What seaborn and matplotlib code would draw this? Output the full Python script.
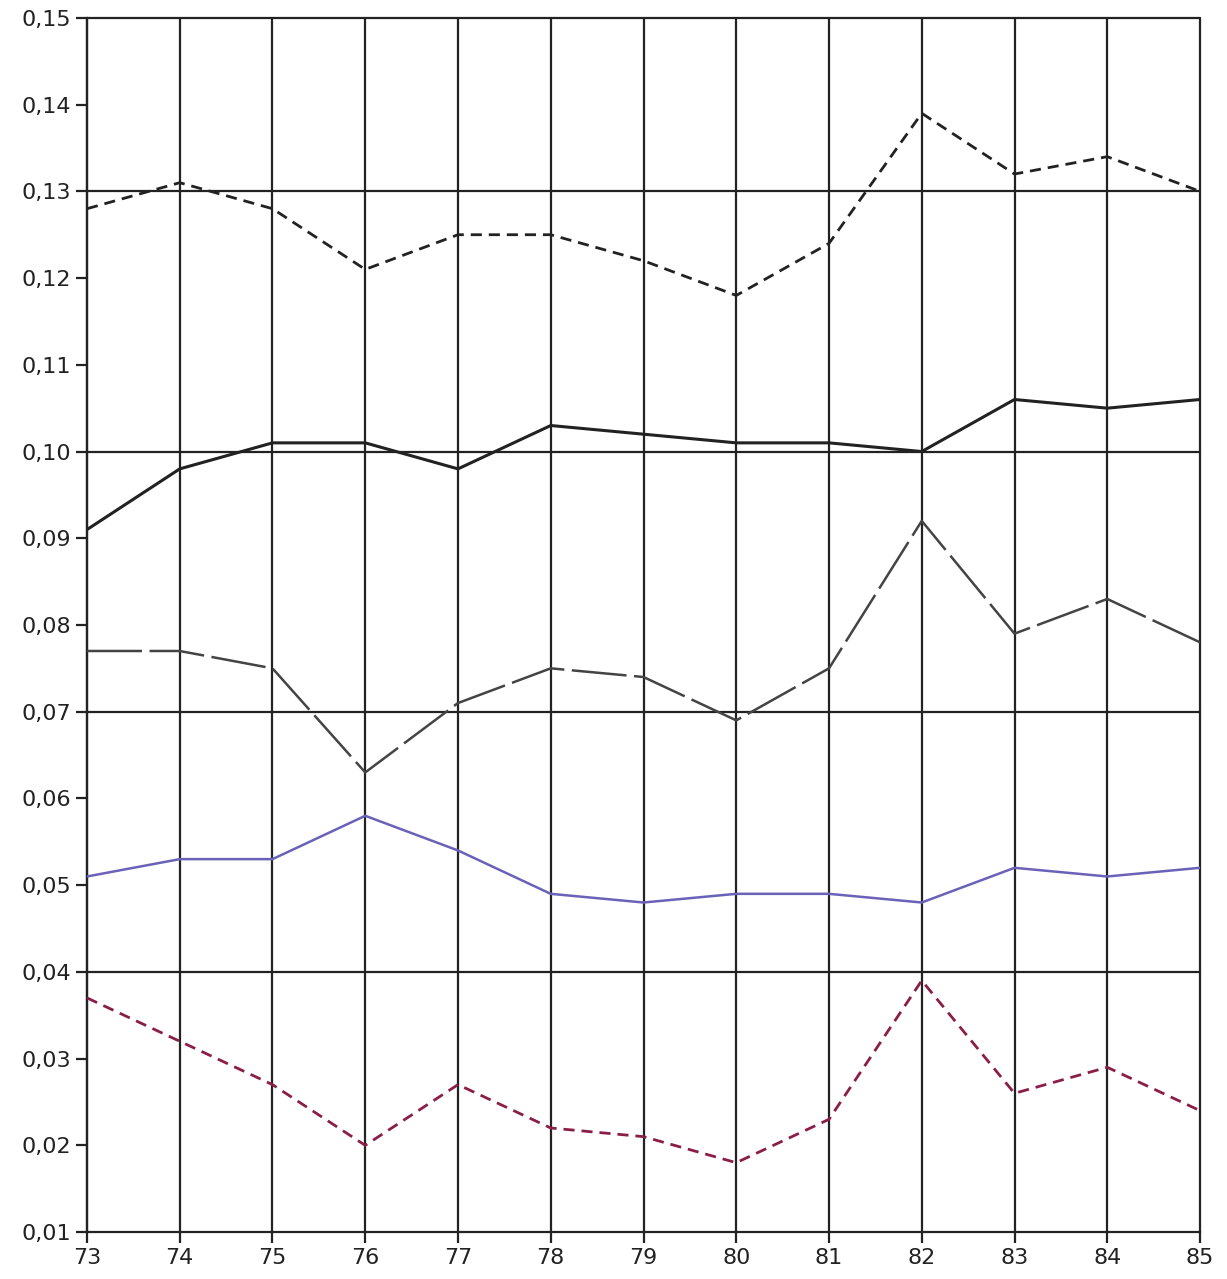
import matplotlib
matplotlib.use("Agg")
import matplotlib.pyplot as plt
import seaborn as sns
import pandas as pd
from matplotlib.ticker import FuncFormatter

years = [73, 74, 75, 76, 77, 78, 79, 80, 81, 82, 83, 84, 85]

serie_atas = [0.128, 0.131, 0.128, 0.121, 0.125, 0.125, 0.122, 0.118, 0.124, 0.139, 0.132, 0.134, 0.130]
serie_hitam = [0.091, 0.098, 0.101, 0.101, 0.098, 0.103, 0.102, 0.101, 0.101, 0.100, 0.106, 0.105, 0.106]
serie_abu = [0.077, 0.077, 0.075, 0.063, 0.071, 0.075, 0.074, 0.069, 0.075, 0.092, 0.079, 0.083, 0.078]
serie_biru = [0.051, 0.053, 0.053, 0.058, 0.054, 0.049, 0.048, 0.049, 0.049, 0.048, 0.052, 0.051, 0.052]
serie_merah = [0.037, 0.032, 0.027, 0.020, 0.027, 0.022, 0.021, 0.018, 0.023, 0.039, 0.026, 0.029, 0.024]

y_ticks = [0.01, 0.02, 0.03, 0.04, 0.05, 0.06, 0.07, 0.08, 0.09, 0.10, 0.11, 0.12, 0.13, 0.14, 0.15]
y_grid = [0.04, 0.07, 0.10, 0.13, 0.15]

sns.set_theme(style="white")
plt.rcParams['font.family'] = ['DejaVu Sans']

fig = plt.figure(figsize=(12.27, 12.79), dpi=100)
ax = fig.add_axes([0.0709, 0.0367, 0.9071, 0.9493])

# garis grid
for x in years:
    ax.axvline(x, color='#222222', lw=1.6, zorder=1, clip_on=False)
for y in y_grid:
    ax.axhline(y, color='#222222', lw=1.6, zorder=1, clip_on=False)

gaya = [
    (serie_atas, '#222222', (0, (4, 2.5)), 2.0),
    (serie_hitam, '#222222', '-', 2.2),
    (serie_abu, '#444444', (0, (22, 3)), 1.8),
    (serie_biru, '#6a62b8', '-', 1.8),
    (serie_merah, '#8b1e48', (0, (4, 2.5)), 2.0),
]
for vals, warna, ls, lw in gaya:
    df = pd.DataFrame({'tahun': years, 'nilai': vals})
    sns.lineplot(data=df, x='tahun', y='nilai', ax=ax, color=warna,
                 linestyle=ls, lw=lw, zorder=3)

ax.set_xlim(73, 85)
ax.set_ylim(0.01, 0.15)
ax.set_xticks(years)
ax.set_xticklabels([str(t) for t in years])
ax.set_yticks(y_ticks)
ax.yaxis.set_major_formatter(FuncFormatter(lambda v, p: f"{v:.2f}".replace('.', ',')))
ax.set_xlabel('')
ax.set_ylabel('')

for s in ['top', 'right']:
    ax.spines[s].set_visible(False)
for s in ['left', 'bottom']:
    ax.spines[s].set_color('#222222')
    ax.spines[s].set_linewidth(1.6)

ax.tick_params(axis='both', direction='out', length=8, width=1.6, color='#222222',
               labelsize=16, labelcolor='#222222', bottom=True, left=True)
for lbl in ax.get_xticklabels() + ax.get_yticklabels():
    lbl.set_fontweight('medium')
ax.patch.set_alpha(0)

fig.savefig('out.png', dpi=100, facecolor='white')
